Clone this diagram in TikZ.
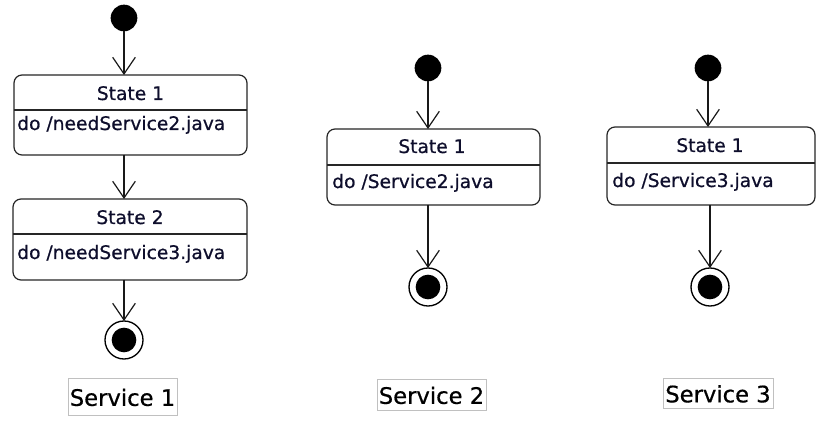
\documentclass[tikz,border=0pt]{standalone}
\usepackage{fontspec}
\setmainfont{DejaVu Sans}[BoldFont={DejaVu Sans},BoldFeatures={FakeBold=0.6}]
\usetikzlibrary{arrows.meta}
\definecolor{ink}{RGB}{14,14,44}
\definecolor{lblborder}{RGB}{192,192,192}
\begin{document}
\begin{tikzpicture}[x=0.75pt,y=-0.75pt,
  statebox/.style={draw=black!85,line width=0.9pt,rounded corners=6pt,fill=white,inner sep=0pt,outer sep=0pt},
  initdot/.style={circle,fill=black,minimum size=20pt,inner sep=0pt,outer sep=0pt},
  finalring/.style={circle,draw=black,line width=1pt,fill=white,minimum size=28.5pt,inner sep=0pt,outer sep=0pt},
  finaldot/.style={circle,fill=black,minimum size=18.5pt,inner sep=0pt},
  trans/.style={draw=black!90,line width=0.9pt,-{Straight Barb[length=12.5pt,width=17pt,line width=0.9pt]}},
  divider/.style={draw=black!85,line width=0.9pt},
  title/.style={font=\fontsize{14pt}{16pt}\selectfont\bfseries,text=ink,inner sep=0pt,anchor=base},
  action/.style={font=\fontsize{14pt}{16pt}\selectfont\bfseries,text=ink,inner sep=0pt,anchor=base west},
  caption/.style={draw=lblborder,line width=0.6pt,font=\fontsize{17pt}{20pt}\selectfont\bfseries,inner sep=0pt,text height=14pt,text depth=0pt}
]
\useasboundingbox (0,0) rectangle (831,423);

% ---------- Service 1 ----------
\node[initdot] (i1) at (124,18) {};
\node[statebox,minimum width=174.75pt,minimum height=60pt] (b1) at (130.5,115) {};
\draw[divider] (b1.west |- 0,110) -- (b1.east |- 0,110);
\node[title] (t1) at (130.5,100) {State 1};
\node[action] (a1) at (17,130) {do /needService2.java};
\node[statebox,minimum width=175.5pt,minimum height=60.75pt] (b2) at (130,239.5) {};
\draw[divider] (b2.west |- 0,234) -- (b2.east |- 0,234);
\node[title] (t2) at (130,224) {State 2};
\node[action] (a2) at (17,259) {do /needService3.java};
\node[finalring] (f1) at (124,340) {};
\node[finaldot] (f1d) at (f1.center) {};
\draw[trans] (i1) -- (i1 |- b1.north);
\draw[trans] (i1 |- b1.south) -- (i1 |- b2.north);
\draw[trans] (f1 |- b2.south) -- (f1.north);
\node[caption,minimum width=81.75pt,minimum height=27.75pt] (c1) at (122.5,396.5) {Service 1};

% ---------- Service 2 ----------
\node[initdot] (i2) at (428,68) {};
\node[statebox,minimum width=159.75pt,minimum height=57pt] (b3) at (433.5,167) {};
\draw[divider] (b3.west |- 0,165) -- (b3.east |- 0,165);
\node[title] (t3) at (432,153) {State 1};
\node[action] (a3) at (332,188) {do /Service2.java};
\node[finalring] (f2) at (428,287) {};
\node[finaldot] (f2d) at (f2.center) {};
\draw[trans] (i2) -- (i2 |- b3.north);
\draw[trans] (f2 |- b3.south) -- (f2.north);
\node[caption,minimum width=81.75pt,minimum height=23.25pt] (c2) at (431.5,394.5) {Service 2};

% ---------- Service 3 ----------
\node[initdot] (i3) at (708,68) {};
\node[statebox,minimum width=156pt,minimum height=58.5pt] (b4) at (711,166) {};
\draw[divider] (b4.west |- 0,163) -- (b4.east |- 0,163);
\node[title] (t4) at (710,152) {State 1};
\node[action] (a4) at (612,187) {do /Service3.java};
\node[finalring] (f3) at (710,287) {};
\node[finaldot] (f3d) at (f3.center) {};
\draw[trans] (i3) -- (i3 |- b4.north);
\draw[trans] (f3 |- b4.south) -- (f3.north);
\node[caption,minimum width=82.5pt,minimum height=22.5pt] (c3) at (718,393) {Service 3};
\end{tikzpicture}
\end{document}
